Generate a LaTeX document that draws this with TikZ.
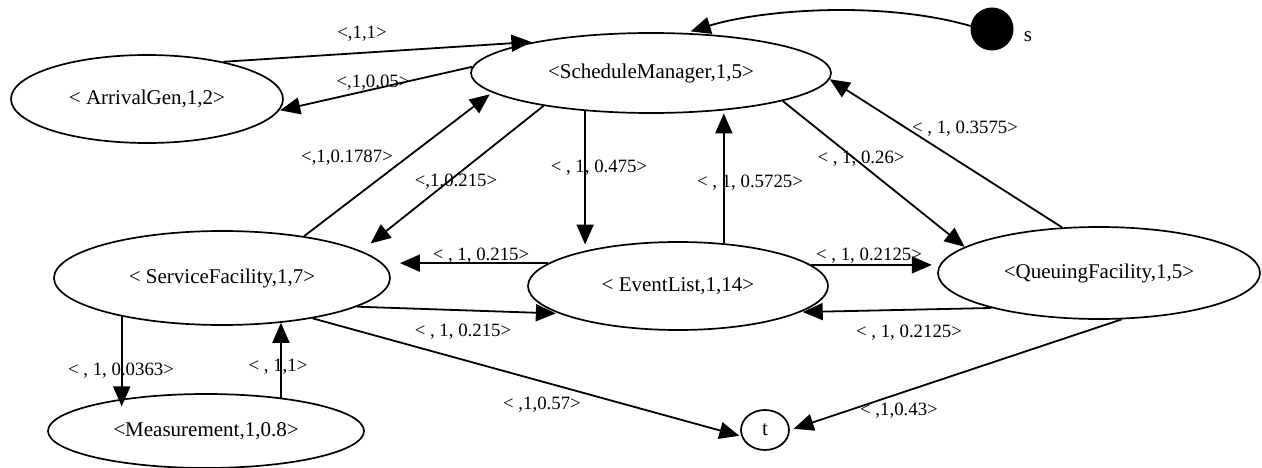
\documentclass[tikz,border=0pt]{standalone}
\usepackage{fontspec}
\setmainfont{Liberation Serif}
\usetikzlibrary{arrows.meta,shapes.geometric}
\begin{document}
\begin{tikzpicture}[x=1pt,y=-1pt,
  nd/.style={ellipse,draw,line width=1.7pt,inner sep=0pt,font=\fontsize{21}{25}\selectfont},
  lb/.style={font=\fontsize{18.8}{22}\selectfont,inner sep=0pt},
  ar/.style={line width=1.8pt,-{Triangle[length=20pt,width=17pt]}}]
\useasboundingbox (0,0) rectangle (1262,468);
% nodes
\node[nd,minimum width=272pt,minimum height=88pt] (ag) at (147,99) {< ArrivalGen,1,2>};
\node[nd,minimum width=360pt,minimum height=80pt] (sm) at (651,73) {<ScheduleManager,1,5>};
\node[circle,fill=black,draw,line width=1pt,minimum size=42pt,inner sep=0pt] (s) at (992,29) {};
\node[font=\fontsize{21}{25}\selectfont,inner sep=0pt] (slab) at (1028,37) {s};
\node[nd,minimum width=336pt,minimum height=94pt] (sf) at (222,278) {< ServiceFacility,1,7>};
\node[nd,minimum width=300pt,minimum height=88pt] (el) at (678,286) {< EventList,1,14>};
\node[nd,minimum width=322pt,minimum height=92pt] (qf) at (1099,273) {<QueuingFacility,1,5>};
\node[nd,minimum width=316pt,minimum height=74pt] (me) at (206,431) {<Measurement,1,0.8>};
\node[nd,minimum width=48pt,minimum height=40pt] (t) at (765,430) {t};
% edges
\draw[ar,shorten >=3pt] (ag.26) -- (sm.165.6);
\draw[ar,shorten >=1pt] (sm.178) -- (ag.-5);
\draw[ar,shorten >=5pt] (s.172) .. controls (880,0) and (760,10) .. (sm.49);
\draw[ar,shorten >=3pt] (sf.27.7) -- (sm.187.1);
\draw[ar,shorten >=12pt] (sm.197.4) -- (sf.11.5);
\draw[ar,shorten >=6pt] (sm.210.3) -- (sm.210.3 |- el.159);
\draw[ar,shorten >=3pt] (el.43.7) -- (el.43.7 |- sm.-27.4);
\draw[ar] (sm.-12.7) -- (qf.169);
\draw[ar] (qf.129.4) -- (sm.-2.2);
\draw[ar,shorten >=14pt] (el.170.9) -- (el.170.9 -| sf.4.6);
\draw[ar,shorten >=3pt] (sf.-12.8) -- (el.193.6);
\draw[ar,shorten >=8pt] (el.9) -- (el.9 -| qf.177.1);
\draw[ar,shorten >=2pt] (qf.198.3) -- (el.-12.5);
\draw[ar,shorten >=-8pt] (sf.201.9) -- (sf.201.9 |- me.158.2);
\draw[ar] (me.24.2) -- (me.24.2 |- sf.-37.8);
\draw[ar,shorten >=2pt] (sf.-24.6) -- (t.195.6);
\draw[ar,shorten >=4pt] (qf.-64.4) -- (t.east);
% labels
\node[lb] (l1) at (362,34) {<,1,1>};
\node[lb] (l2) at (373,83) {<,1,0.05>};
\node[lb] (l4) at (347,158) {<,1,0.1787>};
\node[lb] (l5) at (456,182) {<,1,0.215>};
\node[lb] (l6) at (599,168) {< , 1, 0.475>};
\node[lb] (l7) at (750,183) {< , 1, 0.5725>};
\node[lb] (l8) at (861,159) {< , 1, 0.26>};
\node[lb] (l9) at (965,129) {< , 1, 0.3575>};
\node[lb] (l10) at (481,256) {< , 1, 0.215>};
\node[lb] (l11) at (463,332) {< , 1, 0.215>};
\node[lb] (l12) at (869,256) {< , 1, 0.2125>};
\node[lb] (l13) at (909,333) {< , 1, 0.2125>};
\node[lb] (l14) at (121,371) {< , 1, 0.0363>};
\node[lb] (l15) at (278,367) {< , 1,1>};
\node[lb] (l16) at (542,405) {< ,1,0.57>};
\node[lb] (l17) at (899,411) {< ,1,0.43>};
\end{tikzpicture}
\end{document}
